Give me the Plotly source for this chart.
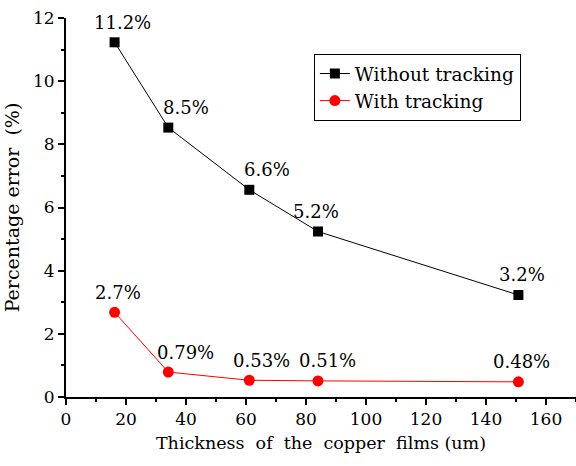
import plotly.graph_objects as go

thickness = [16.2, 34.1, 61.1, 84.0, 150.8]
err_without = [11.23, 8.53, 6.56, 5.24, 3.23]
err_with = [2.68, 0.79, 0.53, 0.51, 0.48]
labels_without = ["11.2%", "8.5%", "6.6%", "5.2%", "3.2%"]
labels_with = ["2.7%", "0.79%", "0.53%", "0.51%", "0.48%"]
x_ticks = [0, 20, 40, 60, 80, 100, 120, 140, 160]
y_ticks = [0, 2, 4, 6, 8, 10, 12]

FONT = "DejaVu Serif"

fig = go.Figure()
fig.add_trace(go.Scatter(
    x=thickness, y=err_without, mode="lines+markers",
    name="Without tracking",
    line=dict(color="black", width=1),
    marker=dict(symbol="square", size=10, color="black"),
    cliponaxis=False,
))
fig.add_trace(go.Scatter(
    x=thickness, y=err_with, mode="lines+markers",
    name="With tracking",
    line=dict(color="red", width=1),
    marker=dict(symbol="circle", size=11, color="red"),
    cliponaxis=False,
))

shift_without = [8, 18, 18, -2, 4]
shift_with = [3, 17, 12, 9, 3]
for xs, ys, labs, shifts in ((thickness, err_without, labels_without, shift_without),
                             (thickness, err_with, labels_with, shift_with)):
    for xv, yv, lab, sh in zip(xs, ys, labs, shifts):
        fig.add_annotation(x=xv, y=yv, text=lab, showarrow=False,
                           xshift=sh, yshift=20, yanchor="middle",
                           font=dict(family=FONT, size=18, color="black"))

axis_common = dict(
    showline=True, linecolor="black", linewidth=2,
    ticks="outside", ticklen=6, tickwidth=2, tickcolor="black",
    showgrid=False, zeroline=False,
    tickfont=dict(family=FONT, size=17, color="black"),
)

fig.update_layout(
    width=576, height=466,
    margin=dict(l=66, r=0, t=18, b=69),
    plot_bgcolor="white", paper_bgcolor="white",
    font=dict(family=FONT, color="black"),
    showlegend=True,
    legend=dict(
        x=0.486, y=0.905, xanchor="left", yanchor="top",
        bordercolor="black", borderwidth=1, bgcolor="white",
        font=dict(family=FONT, size=18.5, color="black"),
        tracegroupgap=0,
    ),
    xaxis=dict(
        range=[0, 170], tickvals=x_ticks,
        minor=dict(ticks="outside", ticklen=3, tickwidth=2, tickcolor="black", dtick=10, tick0=0),
        title=dict(text="Thickness\u00a0\u00a0of\u00a0\u00a0the\u00a0\u00a0copper\u00a0\u00a0films\u00a0(um)",
                   font=dict(family=FONT, size=17.5, color="black"), standoff=8),
        **axis_common,
    ),
    yaxis=dict(
        range=[0, 12], tickvals=y_ticks,
        minor=dict(ticks="outside", ticklen=3, tickwidth=2, tickcolor="black", dtick=1, tick0=0),
        title=dict(text="Percentage error\u00a0\u00a0(%)",
                   font=dict(family=FONT, size=19, color="black"), standoff=8),
        **axis_common,
    ),
)

fig.write_html("out.html")
